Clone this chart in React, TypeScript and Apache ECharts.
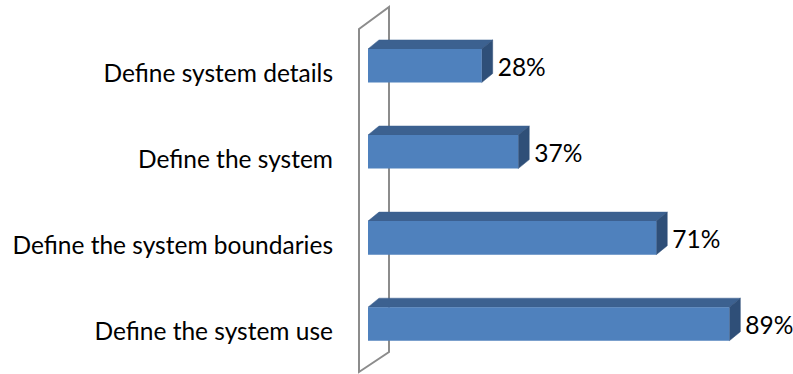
import React, { useEffect, useRef } from "react";
import * as echarts from "echarts";

const categories = [
  "Define the system use",
  "Define the system boundaries",
  "Define the system",
  "Define system details",
];
const values = [89, 71, 37, 28];

export default function App() {
  const ref = useRef<HTMLDivElement>(null);
  useEffect(() => {
    if (!ref.current) return;
    const chart = echarts.init(ref.current, null, { renderer: "svg" });
    const DX = 11;
    const DY = 9;
    const SHIFT = 7;
    chart.setOption({
      animation: false,
      backgroundColor: "#ffffff",
      grid: { left: 368, right: 19, top: 29.7, bottom: -2.3 },
      xAxis: { type: "value", min: 0, max: 100, show: false },
      yAxis: {
        type: "category",
        data: categories,
        axisLine: { show: false },
        axisTick: { show: false },
        splitLine: { show: false },
        axisLabel: {
          margin: 35,
          fontSize: 24.5,
          fontWeight: "normal",
          color: "#000",
          fontFamily: "Lato",
        },
      },
      graphic: [
        {
          type: "polygon",
          z: 0,
          shape: { points: [[359, 29], [389, 7], [389, 352], [359, 372]] },
          style: { fill: "none", stroke: "#8c8c8c", lineWidth: 2 },
        },
      ],
      series: [
        {
          type: "custom",
          z: 5,
          data: values.map((v, i) => [v, i]),
          encode: { x: 0, y: 1 },
          renderItem: (params: any, api: any) => {
            const v = api.value(0);
            const ci = api.value(1);
            const s = api.coord([0, ci]);
            const e = api.coord([v, ci]);
            const band = api.size([0, 1])[1];
            const h = band * 0.39;
            const cy = s[1] - SHIFT;
            const x0 = s[0];
            const x1 = e[0];
            const y0 = cy - h / 2;
            const y1 = cy + h / 2;
            return {
              type: "group",
              children: [
                {
                  type: "polygon",
                  shape: { points: [[x0, y0], [x0 + DX, y0 - DY], [x1 + DX, y0 - DY], [x1, y0]] },
                  style: { fill: "#3C6190", stroke: "#3C6190", lineWidth: 0.5 },
                },
                {
                  type: "polygon",
                  shape: { points: [[x1, y0], [x1 + DX, y0 - DY], [x1 + DX, y1 - DY], [x1, y1]] },
                  style: { fill: "#2F4F78", stroke: "#2F4F78", lineWidth: 0.5 },
                },
                {
                  type: "rect",
                  shape: { x: x0, y: y0, width: x1 - x0, height: h },
                  style: { fill: "#4F81BD" },
                },
                {
                  type: "text",
                  x: x1 + DX + 5,
                  y: cy + 1,
                  style: {
                    text: v + "%",
                    fontSize: 24.5,
                    fontWeight: "normal",
                    fontFamily: "Lato",
                    fill: "#000",
                    verticalAlign: "middle",
                    align: "left",
                  },
                },
              ],
            };
          },
        },
      ],
    });
    return () => chart.dispose();
  }, []);
  return (
    <div
      ref={ref}
      style={{ position: "fixed", left: 0, top: 0, width: 793, height: 374 }}
    />
  );
}
